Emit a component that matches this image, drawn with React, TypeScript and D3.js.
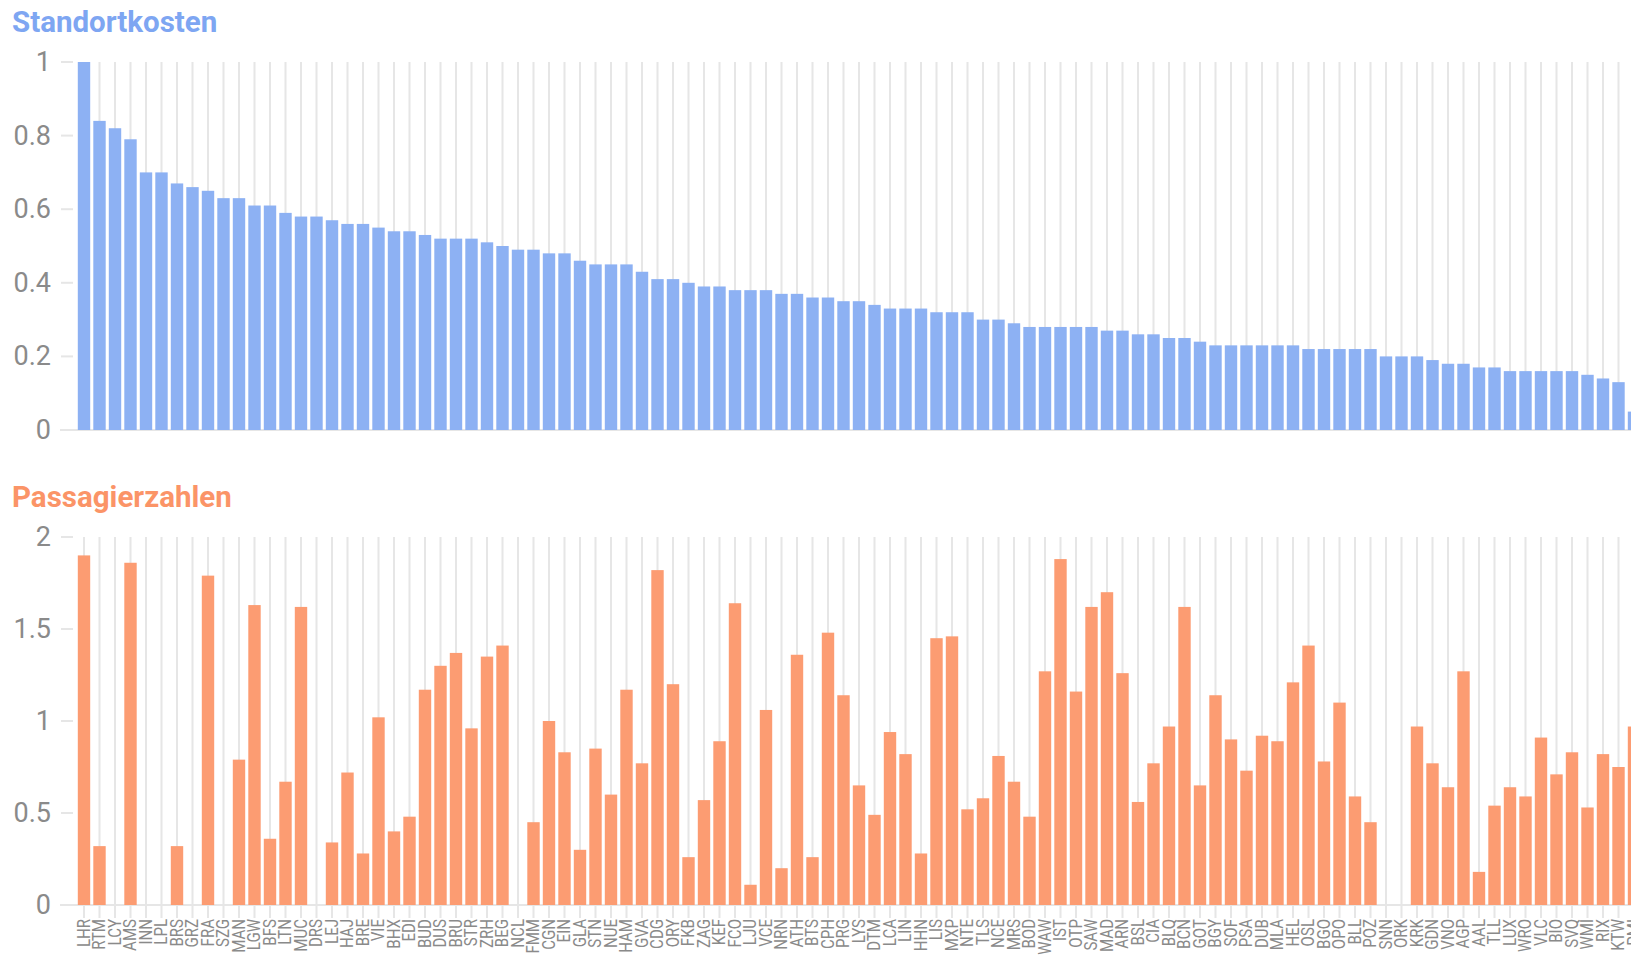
import React from "react";
import * as d3 from "d3";

const airports = [
  "LHR","RTM","LCY","AMS","INN","LPL","BRS","GRZ","FRA","SZG",
  "MAN","LGW","BFS","LTN","MUC","DRS","LEJ","HAJ","BRE","VIE",
  "BHX","EDI","BUD","DUS","BRU","STR","ZRH","BEG","NCL","FMM",
  "CGN","EIN","GLA","STN","NUE","HAM","GVA","CDG","ORY","FKB",
  "ZAG","KEF","FCO","LJU","VCE","NRN","ATH","BTS","CPH","PRG",
  "LYS","DTM","LCA","LIN","HHN","LIS","MXP","NTE","TLS","NCE",
  "MRS","BOD","WAW","IST","OTP","SAW","MAD","ARN","BSL","CIA",
  "BLQ","BCN","GOT","BGY","SOF","PSA","DUB","MLA","HEL","OSL",
  "BGO","OPO","BLL","POZ","SNN","ORK","KRK","GDN","VNO","AGP",
  "AAL","TLL","LUX","WRO","VLC","BIO","SVQ","WMI","RIX","KTW",
  "PMI"
];

const standortkosten = [
  1.0,0.84,0.82,0.79,0.70,0.70,0.67,0.66,0.65,0.63,
  0.63,0.61,0.61,0.59,0.58,0.58,0.57,0.56,0.56,0.55,
  0.54,0.54,0.53,0.52,0.52,0.52,0.51,0.50,0.49,0.49,
  0.48,0.48,0.46,0.45,0.45,0.45,0.43,0.41,0.41,0.40,
  0.39,0.39,0.38,0.38,0.38,0.37,0.37,0.36,0.36,0.35,
  0.35,0.34,0.33,0.33,0.33,0.32,0.32,0.32,0.30,0.30,
  0.29,0.28,0.28,0.28,0.28,0.28,0.27,0.27,0.26,0.26,
  0.25,0.25,0.24,0.23,0.23,0.23,0.23,0.23,0.23,0.22,
  0.22,0.22,0.22,0.22,0.20,0.20,0.20,0.19,0.18,0.18,
  0.17,0.17,0.16,0.16,0.16,0.16,0.16,0.15,0.14,0.13,
  0.05
];

const passagierzahlen = [
  1.90,0.32,0,1.86,0,0,0.32,0,1.79,0,
  0.79,1.63,0.36,0.67,1.62,0,0.34,0.72,0.28,1.02,
  0.40,0.48,1.17,1.30,1.37,0.96,1.35,1.41,0,0.45,
  1.00,0.83,0.30,0.85,0.60,1.17,0.77,1.82,1.20,0.26,
  0.57,0.89,1.64,0.11,1.06,0.20,1.36,0.26,1.48,1.14,
  0.65,0.49,0.94,0.82,0.28,1.45,1.46,0.52,0.58,0.81,
  0.67,0.48,1.27,1.88,1.16,1.62,1.70,1.26,0.56,0.77,
  0.97,1.62,0.65,1.14,0.90,0.73,0.92,0.89,1.21,1.41,
  0.78,1.10,0.59,0.45,0,0,0.97,0.77,0.64,1.27,
  0.18,0.54,0.64,0.59,0.91,0.71,0.83,0.53,0.82,0.75,
  0.97
];

const costTicks = [0, 0.2, 0.4, 0.6, 0.8, 1];
const paxTicks = [0, 0.5, 1, 1.5, 2];

const W = 1631;
const H = 968;
const FONT = "Roboto, 'Noto Sans', sans-serif";
const BLUE = "#8db1f3";
const ORANGE = "#fc9c72";
const GRID = "#e6e6e6";
const TICK_TEXT = "#8a8a8a";

const step = 15.5;
const x0 = 76.25;
const x = d3
  .scaleBand<string>()
  .domain(airports)
  .range([x0, x0 + airports.length * step])
  .paddingInner(0.2)
  .paddingOuter(0.1);

function Panel({ title, color, values, ticks, yMax, top, bottom, barColor, showLabels }: any) {
  const y = d3.scaleLinear().domain([0, yMax]).range([bottom, top]);
  const fmt = (v: number) => String(v);
  return (
    <g>
      <text x={12} y={top - 30} fontFamily={FONT} fontWeight={700} fontSize={29.5} fill={color}>
        {title}
      </text>
      {airports.map((a) => {
        const cx = (x(a) as number) + x.bandwidth() / 2;
        return (
          <line key={"g" + a} x1={cx} x2={cx} y1={y(yMax)} y2={showLabels ? bottom + 13 : bottom}
            stroke={GRID} strokeWidth={2} />
        );
      })}
      <line x1={60} x2={W} y1={y(0)} y2={y(0)} stroke={GRID} strokeWidth={2} />
      {ticks.map((t: number) => (
        <g key={"t" + t}>
          <line x1={61} x2={73} y1={y(t)} y2={y(t)} stroke={GRID} strokeWidth={2} />
          <text x={51} y={y(t)} textAnchor="end" dominantBaseline="central"
            fontFamily={FONT} fontSize={27} fill={TICK_TEXT}>
            {fmt(t)}
          </text>
        </g>
      ))}
      {airports.map((a, i) => {
        const v = values[i];
        if (!v) return null;
        return (
          <rect key={"b" + a} x={x(a)} width={x.bandwidth()} y={y(v)} height={y(0) - y(v)} fill={barColor} />
        );
      })}
      {showLabels &&
        airports.map((a) => {
          const cx = (x(a) as number) + x.bandwidth() / 2;
          return (
            <text key={"l" + a} transform={`translate(${cx},${bottom + 14}) rotate(-90) scale(0.86,1)`}
              textAnchor="end" dominantBaseline="central" fontFamily={FONT} fontSize={17.5} fill={TICK_TEXT}>
              {a}
            </text>
          );
        })}
    </g>
  );
}

export default function App() {
  return (
    <svg width={W} height={H} viewBox={`0 0 ${W} ${H}`}
      style={{ position: "fixed", left: 0, top: 0, background: "#fff", overflow: "hidden" }}>
      <Panel title="Standortkosten" color="#7ea6f2" values={standortkosten} ticks={costTicks}
        yMax={1} top={62} bottom={430} barColor={BLUE} showLabels={false} />
      <Panel title="Passagierzahlen" color="#fb9467" values={passagierzahlen} ticks={paxTicks}
        yMax={2} top={537} bottom={905} barColor={ORANGE} showLabels={true} />
    </svg>
  );
}
